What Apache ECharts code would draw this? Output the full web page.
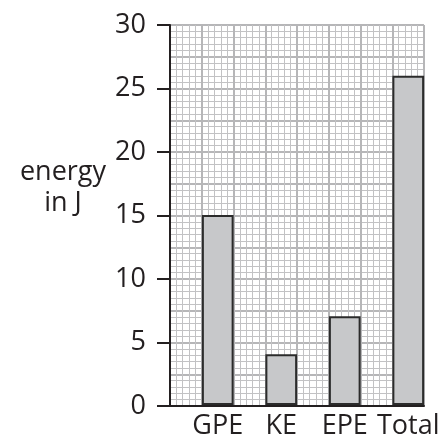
<!DOCTYPE html>
<html>
<head>
<meta charset="utf-8">
<script src="https://cdn.jsdelivr.net/npm/echarts@6/dist/echarts.min.js"></script>
<style>html,body{margin:0;padding:0;background:#fff}#c{width:443px;height:440px}</style>
</head>
<body>
<div id="c"></div>
<script>
const categories = ['GPE', 'KE', 'EPE', 'Total'];
const energyValues = [15, 4, 7, 26];
const yTickInterval = 5;
const yMin = 0, yMax = 30;
const yAxisTitle = 'energy\nin J';

const FONT = 'Open Sans';
const TXT = '#231f20';
const chart = echarts.init(document.getElementById('c'), null, {renderer: 'canvas'});
chart.setOption({
  animation: false,
  backgroundColor: '#ffffff',
  title: {
    text: yAxisTitle, left: 63, top: 157, textAlign: 'center', padding: 0,
    textStyle: {fontFamily: FONT, fontSize: 27, fontWeight: 'normal', color: TXT, lineHeight: 31}
  },
  grid: [
    {left: 170, right: 19, top: 25, bottom: 34},
    {left: 186, right: 3, top: 25, bottom: 34}
  ],
  xAxis: [
    {
      gridIndex: 0, type: 'value', min: 0, max: 8, interval: 1,
      axisLabel: {show: false}, axisTick: {show: false},
      axisLine: {show: true, onZero: false, lineStyle: {color: '#231f20', width: 2}},
      splitLine: {show: true, lineStyle: {color: '#b6b6b8', width: 2}},
      minorTick: {show: false, splitNumber: 5},
      minorSplitLine: {show: true, lineStyle: {color: '#c2c2c4', width: 1}}
    },
    {
      gridIndex: 1, type: 'category', data: categories,
      axisLine: {show: false}, axisTick: {show: false},
      axisLabel: {fontFamily: FONT, fontSize: 27, color: TXT, margin: 8, interval: 0}
    }
  ],
  yAxis: [
    {
      gridIndex: 0, type: 'value', min: yMin, max: yMax, interval: yTickInterval,
      axisLine: {show: true, lineStyle: {color: '#231f20', width: 2}},
      axisTick: {show: true, length: 13, lineStyle: {color: '#231f20', width: 2}},
      axisLabel: {fontFamily: FONT, fontSize: 27, color: TXT, margin: 24},
      splitLine: {show: false}
    },
    {
      gridIndex: 0, type: 'value', min: yMin, max: yMax, interval: yTickInterval / 2,
      position: 'left',
      axisLine: {show: false}, axisTick: {show: false}, axisLabel: {show: false},
      splitLine: {show: true, lineStyle: {color: '#b6b6b8', width: 2}},
      minorTick: {show: false, splitNumber: 5},
      minorSplitLine: {show: true, lineStyle: {color: '#c2c2c4', width: 1}}
    },
    {
      gridIndex: 1, type: 'value', min: yMin, max: yMax, show: false
    }
  ],
  series: [{
    type: 'bar', xAxisIndex: 1, yAxisIndex: 2,
    data: energyValues, barWidth: '50%',
    itemStyle: {color: '#c7c8ca', borderColor: '#2b2b2b', borderWidth: 2}
  }]
});
</script>
</body>
</html>
